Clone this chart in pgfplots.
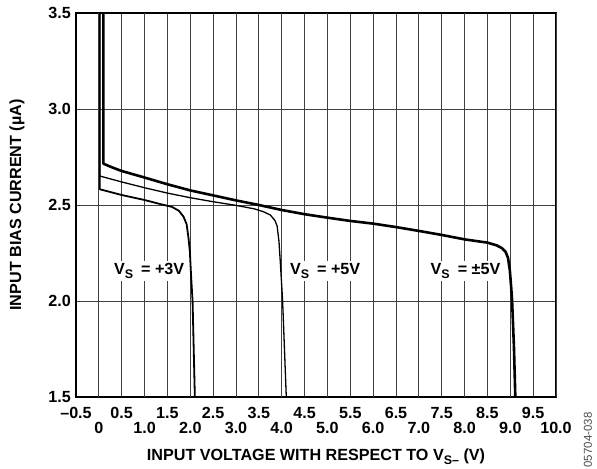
\documentclass[border=0pt]{standalone}
\usepackage{fontspec}
\setmainfont{Liberation Sans}
\usepackage{pgfplots}
\pgfplotsset{compat=1.18}
\newcommand{\lbf}{\bfseries\fontsize{16.2}{18}\selectfont}
\newcommand{\sub}[1]{\raisebox{-0.45ex}{\fontsize{12.5}{13}\selectfont #1}}
\begin{document}
\begin{tikzpicture}
\begin{axis}[
  scale only axis, width=480bp, height=384bp,
  xmin=-0.5, xmax=10, ymin=1.5, ymax=3.5,
  xtick={-0.5,0.5,1.5,2.5,3.5,4.5,5.5,6.5,7.5,8.5,9.5},
  xticklabels={\textendash0.5,0.5,1.5,2.5,3.5,4.5,5.5,6.5,7.5,8.5,9.5},
  extra x ticks={0,1,2,3,4,5,6,7,8,9,10},
  extra x tick labels={0,1.0,2.0,3.0,4.0,5.0,6.0,7.0,8.0,9.0,10.0},
  extra x tick style={grid=major, xticklabel style={yshift=-15bp}},
  ytick={1.5,2,2.5,3,3.5},
  yticklabels={1.5,2.0,2.5,3.0,3.5},
  grid=major,
  major grid style={black!75, line width=0.9bp},
  major tick length=0pt,
  axis line style={line width=1.6bp},
  tick label style={font=\lbf},
  yticklabel style={inner sep=2bp, xshift=-3bp},
  xticklabel style={inner sep=2bp, yshift=-8bp},
  xlabel={INPUT VOLTAGE WITH RESPECT TO V\sub{S\textendash} (V)},
  ylabel={INPUT BIAS CURRENT (µA)},
  label style={font=\lbf},
  xlabel style={at={(axis description cs:0.5,-0.156)}, anchor=center},
  ylabel style={at={(axis description cs:-0.123,0.5)}, anchor=center},
  clip=true,
]
\addplot[black, line width=2.6bp, line join=round] coordinates {
(0.1,3.5)(0.1,2.715)(0.3,2.695)(0.5,2.677)(1.0,2.643)(1.5,2.608)(2.0,2.576)(2.5,2.55)(3.0,2.524)(3.5,2.50)(4.0,2.474)(4.5,2.452)(5.0,2.434)(5.5,2.417)(6.0,2.403)(6.5,2.385)(7.0,2.365)(7.5,2.344)(8.0,2.321)(8.5,2.304)(8.7,2.290)(8.82,2.275)(8.9,2.255)(8.95,2.225)(8.99,2.16)(9.02,2.07)(9.04,2.0)(9.08,1.76)(9.11,1.5)
};
\addplot[black, line width=1.3bp, line join=round] coordinates {
(0.02,3.5)(0.02,2.651)(0.5,2.62)(1.0,2.59)(1.5,2.562)(2.0,2.538)(2.5,2.517)(3.0,2.498)(3.4,2.48)(3.6,2.465)(3.75,2.448)(3.85,2.42)(3.9,2.39)(3.94,2.31)(3.97,2.2)(4.0,2.08)(4.02,2.0)(4.1,1.5)
};
\addplot[black, line width=1.8bp, line join=round] coordinates {
(0.02,3.5)(0.02,2.582)(0.5,2.552)(1.0,2.526)(1.34,2.505)(1.6,2.49)(1.75,2.47)(1.85,2.44)(1.92,2.40)(1.96,2.33)(1.99,2.26)(2.02,2.12)(2.05,2.0)(2.10,1.5)
};
\node[fill=white, inner sep=2.5bp, font=\lbf] at (axis cs:1.10,2.156) {V\sub{S}\enspace= +3V};
\node[fill=white, inner sep=2.5bp, font=\lbf] at (axis cs:4.95,2.156) {V\sub{S}\enspace= +5V};
\node[fill=white, inner sep=2.5bp, font=\lbf] at (axis cs:8.02,2.156) {V\sub{S}\enspace= ±5V};
\coordinate (bl) at (rel axis cs:0,0);
\coordinate (tr) at (rel axis cs:1,1);
\end{axis}
\node[rotate=90, font=\fontsize{11.5}{13}\selectfont, text=black!70] at ([shift={(32bp,-43bp)}]bl -| tr) {05704-038};
\pgfresetboundingbox
\useasboundingbox ([shift={(-76bp,-72bp)}]bl) rectangle ([shift={(41bp,13bp)}]tr);
\end{tikzpicture}
\end{document}
